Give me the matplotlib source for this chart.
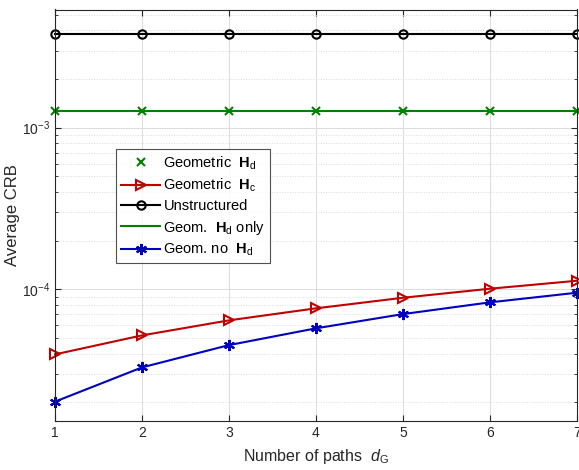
import matplotlib
matplotlib.use("Agg")
import matplotlib.pyplot as plt
from matplotlib.ticker import LogLocator, NullFormatter
import numpy as np

plt.rcParams['font.family'] = ['Liberation Sans', 'DejaVu Sans']
plt.rcParams['mathtext.fontset'] = 'custom'
plt.rcParams['mathtext.rm'] = 'Liberation Sans'
plt.rcParams['mathtext.it'] = 'Liberation Sans:italic'
plt.rcParams['mathtext.bf'] = 'Liberation Sans:bold'

paths = [1, 2, 3, 4, 5, 6, 7]
geom_hd = [1.27e-3] * 7
geom_hc = [3.96e-5, 5.19e-5, 6.43e-5, 7.63e-5, 8.87e-5, 1.009e-4, 1.13e-4]
unstructured = [3.80e-3] * 7
geom_hd_only = [1.27e-3] * 7
geom_no_hd = [2.02e-5, 3.29e-5, 4.52e-5, 5.74e-5, 7.03e-5, 8.31e-5, 9.53e-5]

fig = plt.figure(figsize=(5.79, 4.70), dpi=100)
ax = fig.add_axes([55/579, (470-420.7)/470, (577-55)/579, (420.7-9.5)/470])

ax.plot(paths, geom_hd, 'x', color='#008000', ms=6, mew=1.5, clip_on=False,
        label=r'Geometric  $\mathbf{H}_\mathrm{d}$')
ax.plot(paths, geom_hc, '->', color='#C00000', ms=7, lw=1.5, mfc='none', mew=1.5,
        clip_on=False, label=r'Geometric  $\mathbf{H}_\mathrm{c}$')
ax.plot(paths, unstructured, '-o', color='black', ms=6, lw=1.5, mfc='none', mew=1.5,
        clip_on=False, label='Unstructured')
ax.plot(paths, geom_hd_only, '-', color='#008000', lw=1.5,
        label=r'Geom.  $\mathbf{H}_\mathrm{d}$ only')
ax.plot(paths, geom_no_hd, '-', marker=(6, 2, 0), color='#0000C0', ms=8, lw=1.5, mew=1.5,
        clip_on=False, label=r'Geom. no  $\mathbf{H}_\mathrm{d}$')

ax.set_yscale('log')
ax.set_xlim(1, 7)
ax.set_ylim(1.54e-5, 5.38e-3)
ax.set_xticks(paths)
ax.yaxis.set_major_locator(LogLocator(base=10, numticks=10))
ax.yaxis.set_minor_locator(LogLocator(base=10, subs=np.arange(2, 10), numticks=20))
ax.yaxis.set_minor_formatter(NullFormatter())
ax.tick_params(which='both', direction='in', top=True, right=True, labelsize=10, colors='#262626')
ax.tick_params(which='major', length=4)
ax.tick_params(which='minor', length=2)
ax.grid(True, which='major', color='#dcdcdc', lw=0.7)
ax.grid(True, which='minor', axis='y', color='#dcdcdc', lw=0.7, ls=':')
for s in ax.spines.values():
    s.set_color('#262626')
    s.set_linewidth(0.8)

ax.set_xlabel(r'Number of paths  $d_\mathrm{G}$', fontsize=11.5, color='#262626', labelpad=5)
ax.set_ylabel('Average CRB', fontsize=12, color='#262626')
ax.yaxis.set_label_coords(-0.067, 0.5)

leg = ax.legend(loc='upper left', bbox_to_anchor=((116-55)/522, (420.7-149.3)/411.2),
                fontsize=10.5, frameon=True, fancybox=False, edgecolor='#262626',
                handlelength=2.7, borderpad=0.35, labelspacing=0.35, handletextpad=0.2,
                borderaxespad=0)
leg.get_frame().set_linewidth(0.8)

plt.savefig('out.png', dpi=100)
